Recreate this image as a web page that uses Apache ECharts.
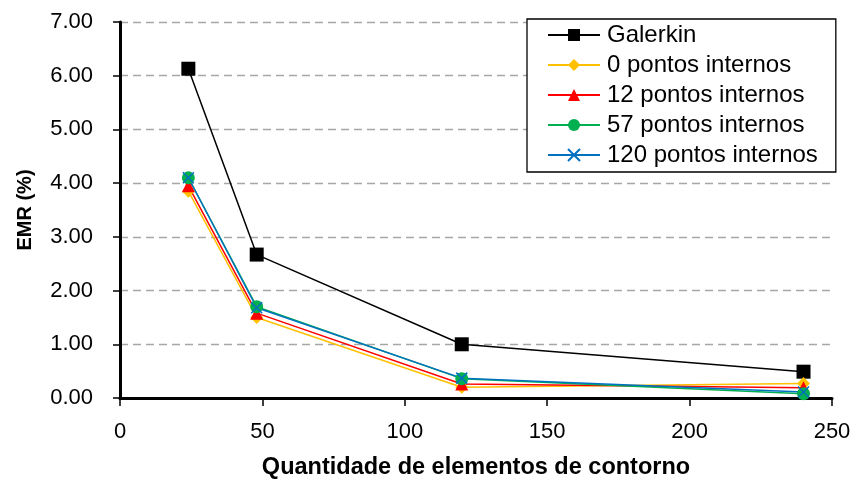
<!DOCTYPE html>
<html><head><meta charset="utf-8">
<script src="https://cdn.jsdelivr.net/npm/echarts@6/dist/echarts.min.js"></script>
<style>html,body{margin:0;padding:0;background:#fff}#c{width:855px;height:485px}</style>
</head><body><div id="c"></div>
<script>
const xVals = [24, 48, 120, 240];
const galerkin = [6.13, 2.67, 1.00, 0.49];
const p0 = [3.85, 1.50, 0.20, 0.27];
const p12 = [3.95, 1.58, 0.26, 0.19];
const p57 = [4.10, 1.70, 0.36, 0.08];
const p120 = [4.10, 1.68, 0.37, 0.11];
const names = ['Galerkin','0 pontos internos','12 pontos internos','57 pontos internos','120 pontos internos'];
const FONT = '"Liberation Sans", "Open Sans", sans-serif';
const pair = a => xVals.map((x,i)=>[x,a[i]]);
const chart = echarts.init(document.getElementById('c'));
function s(name, data, color, symbol, size, extra){
  return Object.assign({name, type:'line', data:pair(data), symbol, symbolSize:size,
    lineStyle:{color, width:1.5}, itemStyle:{color}, animation:false}, extra||{});
}
chart.setOption({
  animation:false,
  textStyle:{fontFamily:FONT},
  grid:{left:120, right:23, top:22, bottom:87},
  legend:{orient:'vertical', left:527, top:19, itemWidth:52, itemHeight:15, itemGap:6,
    padding:[4,18,5,20], borderColor:'#000', borderWidth:1.3, backgroundColor:'#fff',
    textStyle:{fontSize:24, lineHeight:24, color:'#000', fontFamily:FONT, padding:[0,0,0,2]}, data:names},
  xAxis:{type:'value', min:0, max:250, interval:50,
    name:'Quantidade de elementos de contorno', nameLocation:'middle', nameGap:58,
    nameTextStyle:{fontSize:23.5, fontWeight:'bold', color:'#000'},
    axisLine:{lineStyle:{color:'#000', width:3}}, axisTick:{show:true, length:8, lineStyle:{color:'#000', width:1.5}},
    axisLabel:{fontSize:22, color:'#000', margin:23}, splitLine:{show:false}},
  yAxis:{type:'value', min:0, max:7, interval:1,
    name:'EMR (%)', nameLocation:'middle', nameGap:85, nameRotate:90,
    nameTextStyle:{fontSize:20, fontWeight:'bold', color:'#000'},
    axisLine:{show:true, lineStyle:{color:'#000', width:3}}, axisTick:{show:true, length:7, lineStyle:{color:'#000', width:1.5}},
    axisLabel:{fontSize:22, color:'#000', margin:27, formatter:v=>v.toFixed(2)},
    splitLine:{show:true, lineStyle:{color:'#a6a6a6', type:[8,5], width:1.3}}},
  series:[
    s(names[0], galerkin, '#000000', 'rect', 14),
    s(names[1], p0, '#FFC000', 'diamond', 13),
    s(names[2], p12, '#FF0000', 'triangle', 13),
    s(names[3], p57, '#00B050', 'circle', 13),
    s(names[4], p120, '#0070C0', 'path://M0,0L10,10M10,0L0,10', 11,
      {itemStyle:{color:'none', borderColor:'#0070C0', borderWidth:1.5}})
  ]
});
</script></body></html>
